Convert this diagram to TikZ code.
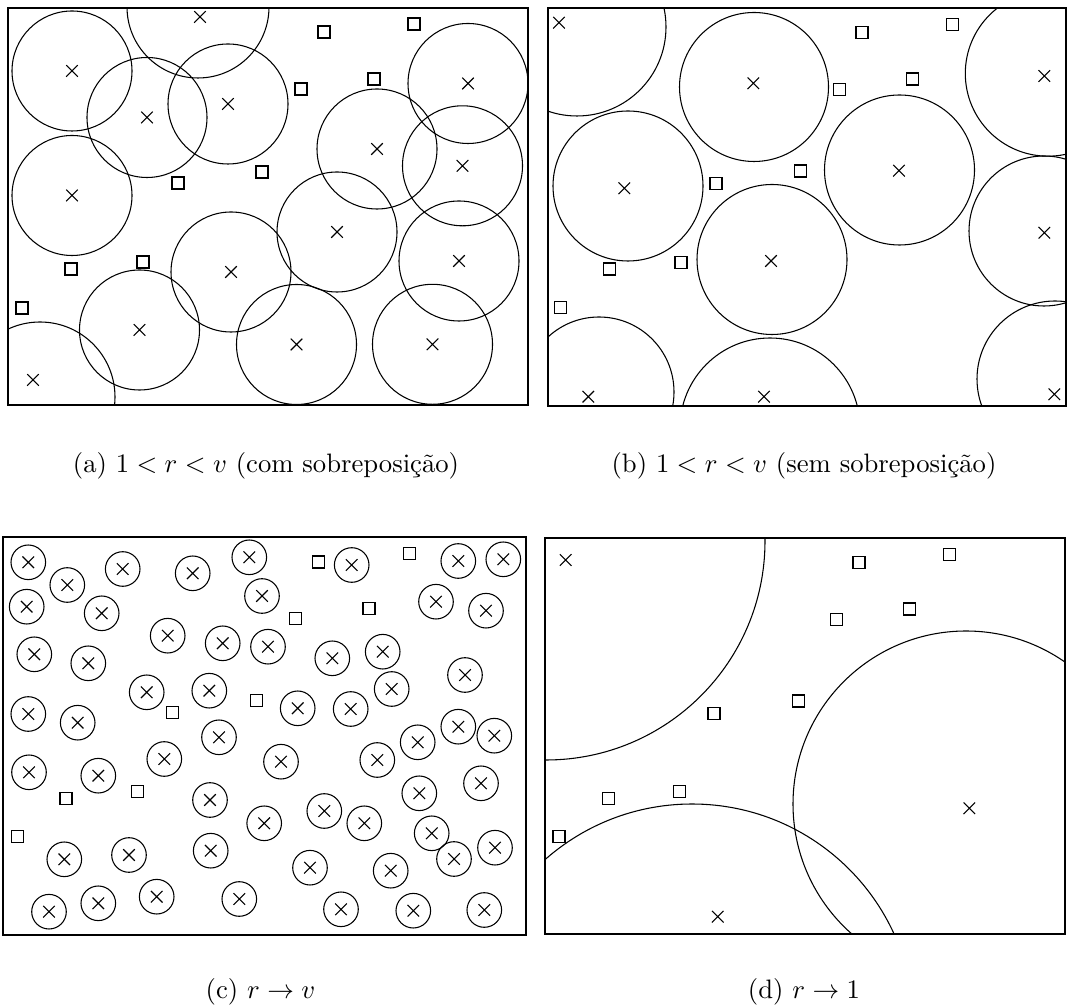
\documentclass[tikz,border=0pt]{standalone}
\usepackage{fontspec}
\begin{document}
\begin{tikzpicture}[x=0.375pt,y=-0.375pt,line width=0.4pt,
  frm/.style={line width=0.5pt},
  xm/.pic={\draw (-5.8,-5.8)--(5.8,5.8) (-5.8,5.8)--(5.8,-5.8);},
  sm/.pic={\draw[line width=0.5pt] (-6,-6) rectangle (6,6);},
  captxt/.style={anchor=base,inner sep=0pt}]
\useasboundingbox (0,0) rectangle (1067,1007);

% ---------- (a) ----------
\draw[frm] (8,8) rectangle (528,405);
\begin{scope}
  \clip (8,8) rectangle (528,405);
  \foreach \x/\y in {72/71, 147/117.5, 228/104, 72/195.5, 468/83.5, 377/149,
                     462.5/165.8, 231/272, 337/232, 459/261, 139.5/330,
                     296.5/344.5, 432.5/344.3}
    {\draw (\x,\y) circle[radius=60]; \pic at (\x,\y) {xm};}
  \draw (198,7) circle[radius=71];
  \draw (40,397) circle[radius=75];
\end{scope}
\pic at (200,17) {xm};
\pic at (33,380) {xm};
\foreach \x/\y in {324/32, 414/24, 301/89, 374/79, 178/183, 262/172,
                   71/269, 143/262, 22/308}
  {\pic at (\x,\y) {sm};}
\node[captxt] (capa) at (266,472.5) {(a) $1<r<v$ (com sobreposição)};

% ---------- (b) ----------
\draw[frm] (548,8) rectangle (1066,406);
\begin{scope}
  \clip (548,8) rectangle (1066,406);
  \foreach \x/\y/\r in {577/27/89, 754/87/74.5, 628/186/75, 772/259.5/75,
                        599/392/75, 770/428/90, 1048/73.5/82.7, 899.5/170/75,
                        1044/231/75, 1055/379/78}
    {\draw (\x,\y) circle[radius=\r];}
\end{scope}
\foreach \x/\y in {559/22.7, 753.3/83.3, 624.3/188.3, 771/261, 588.3/396.7,
                   764/396.7, 1044.3/76, 899/170.7, 1044.3/232.7, 1054.3/394.3}
  {\pic at (\x,\y) {xm};}
\foreach \x/\y in {862/32.3, 952.7/24.3, 839.3/89.3, 912.7/79, 716/183.3,
                   800.7/171, 609.3/269, 681/262.3, 560.7/307.3}
  {\pic at (\x,\y) {sm};}
\node[captxt] (capb) at (804,472.5) {(b) $1<r<v$ (sem sobreposição)};

% ---------- (c) ----------
\draw[frm] (3,537) rectangle (526,935);
\foreach \x/\y in {28.3/562.3, 67.3/585, 122.7/569, 192.7/573.3, 249.3/557.3,
   26.7/606.7, 101.7/613.3, 262/596, 167.7/635.7, 222.7/643.3, 268/646.7,
   34.3/654.3, 88.3/663.3, 146.7/692.3, 209.3/690.7, 28.3/714, 77.7/722.7,
   219/737.3, 164.3/759, 29/772.3, 98.3/775.7, 210/800, 281/761.7,
   264.2/823.3, 64.3/859.3, 129/855, 210.7/850.7, 49/911.7, 98.3/903.3,
   156.7/896.7, 239.3/899, 351.7/565, 458.3/561, 503.3/559.3, 436/601.7,
   486/610.7, 332.3/658.3, 382.7/651.7, 391.7/689, 465/675, 297.7/708.3,
   350.7/709, 458.3/726.7, 494.3/735.7, 417.7/742.3, 377.3/760, 481/783.3,
   419.3/793.3, 324.3/811, 364.3/823.3, 431.7/833.3, 495/847.7, 310/867.7,
   390.7/870.7, 454/859, 341/909.3, 413.3/910.7, 484.3/910}
  {\draw (\x,\y) circle[radius=17.3]; \pic at (\x,\y) {xm};}
\foreach \x/\y in {318.7/562, 409.3/553.3, 295.7/618.3, 369/608.3, 172.3/712.7,
                   256.7/700.7, 66/798.3, 137.7/791.7, 17.3/836.7}
  {\pic at (\x,\y) {sm};}
\node[captxt] (capc) at (260.5,998) {(c) $r\to v$};

% ---------- (d) ----------
\draw[frm] (545,538) rectangle (1065,934);
\begin{scope}
  \clip (545,538) rectangle (1065,934);
  \draw (546,541) circle[radius=219];
  \draw (692,1026) circle[radius=222];
  \draw (966,804) circle[radius=173];
\end{scope}
\foreach \x/\y in {565.7/560, 969.3/808.3, 717.7/916.7}
  {\pic at (\x,\y) {xm};}
\foreach \x/\y in {859/562.3, 949.7/554.3, 836.7/619.3, 909.3/609, 714/713.3,
                   798.3/701, 608.3/798.3, 679.3/791.7, 559/836.7}
  {\pic at (\x,\y) {sm};}
\node[captxt] (capd) at (804,998) {(d) $r\to 1$};
\end{tikzpicture}
\end{document}
